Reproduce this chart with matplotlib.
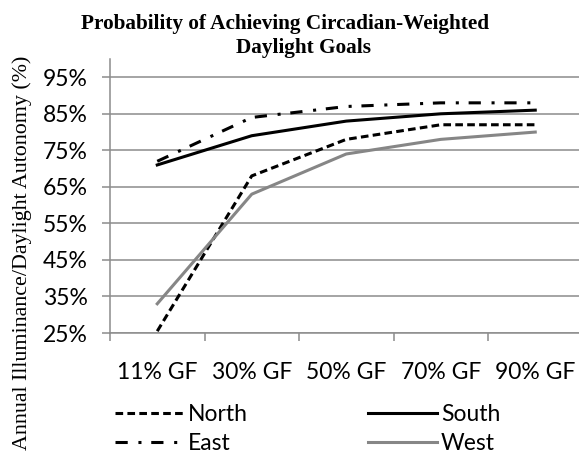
import matplotlib
matplotlib.use("Agg")
import matplotlib.pyplot as plt
from matplotlib.ticker import FuncFormatter

categories = ["11% GF", "30% GF", "50% GF", "70% GF", "90% GF"]
north = [25.5, 68, 78, 82, 82]
south = [71, 79, 83, 85, 86]
east = [72, 84, 87, 88, 88]
west = [33, 63, 74, 78, 80]
yticks = [25, 35, 45, 55, 65, 75, 85, 95]

W, H = 579, 454
fig = plt.figure(figsize=(W / 100, H / 100), dpi=100)
ax_left, ax_right, ax_top, ax_bot = 110, 582.5, 59, 333
ax = fig.add_axes([ax_left / W, 1 - ax_bot / H, (ax_right - ax_left) / W, (ax_bot - ax_top) / H])

x = list(range(len(categories)))
lw = 2.2
ax.plot(x, north, color="black", lw=lw, linestyle=(0, (2.5, 1.4)), label="North")
ax.plot(x, south, color="black", lw=lw, linestyle="-", label="South")
ax.plot(x, east, color="black", lw=lw, linestyle=(0, (4, 3.5, 1, 3.2)), label="East")
ax.plot(x, west, color="#868686", lw=lw, linestyle="-", label="West")

ax.set_xlim(-0.5, 4.5)
ax.set_ylim(25, 100)
ax.set_yticks(yticks)
ax.yaxis.set_major_formatter(FuncFormatter(lambda v, p: f"{v:.0f}%"))
ax.set_xticks([i + 0.5 for i in range(-1, 5)])
ax.set_xticklabels([])
ax.set_xticks(x, minor=True)
ax.set_xticklabels(categories, minor=True)

grid_c = "#8c8c8c"
ax.grid(axis="y", color=grid_c, lw=1.1)
ax.set_axisbelow(True)
for s in ["top", "right"]:
    ax.spines[s].set_visible(False)
for s in ["left", "bottom"]:
    ax.spines[s].set_color(grid_c)
    ax.spines[s].set_linewidth(1.1)

tickfont = "Lato"
ax.tick_params(axis="y", which="major", length=5.8, width=1.1, color=grid_c, direction="out",
               pad=10, labelsize=16.5, labelfontfamily=tickfont)
ax.tick_params(axis="x", which="major", length=5.8, width=1.1, color=grid_c, direction="out")
ax.tick_params(axis="x", which="minor", length=0, pad=21, labelsize=16.5, labelfontfamily=tickfont)

title_kw = dict(ha="center", va="baseline", fontsize=15.3, fontweight="bold", family="Liberation Serif")
fig.text(285 / W, 1 - 29 / H, "Probability of Achieving Circadian-Weighted", **title_kw)
fig.text(303 / W, 1 - 53 / H, "Daylight Goals", **title_kw)
fig.text(22 / W, 1 - 253 / H, "Annual Illuminance/Daylight Autonomy (%)", rotation=90,
         ha="center", va="center", fontsize=15.8, family="Liberation Serif")

h, l = ax.get_legend_handles_labels()
order = [0, 2, 1, 3]
leg = fig.legend([h[i] for i in order], [l[i] for i in order], ncol=2, loc="center left",
                 bbox_to_anchor=(115 / W, 1 - 429 / H), frameon=False, borderpad=0,
                 borderaxespad=0, handlelength=3.05, handletextpad=0.15, columnspacing=5.2,
                 labelspacing=0.32, prop={"family": tickfont, "size": 16.5})

fig.savefig("out.png", dpi=100)
